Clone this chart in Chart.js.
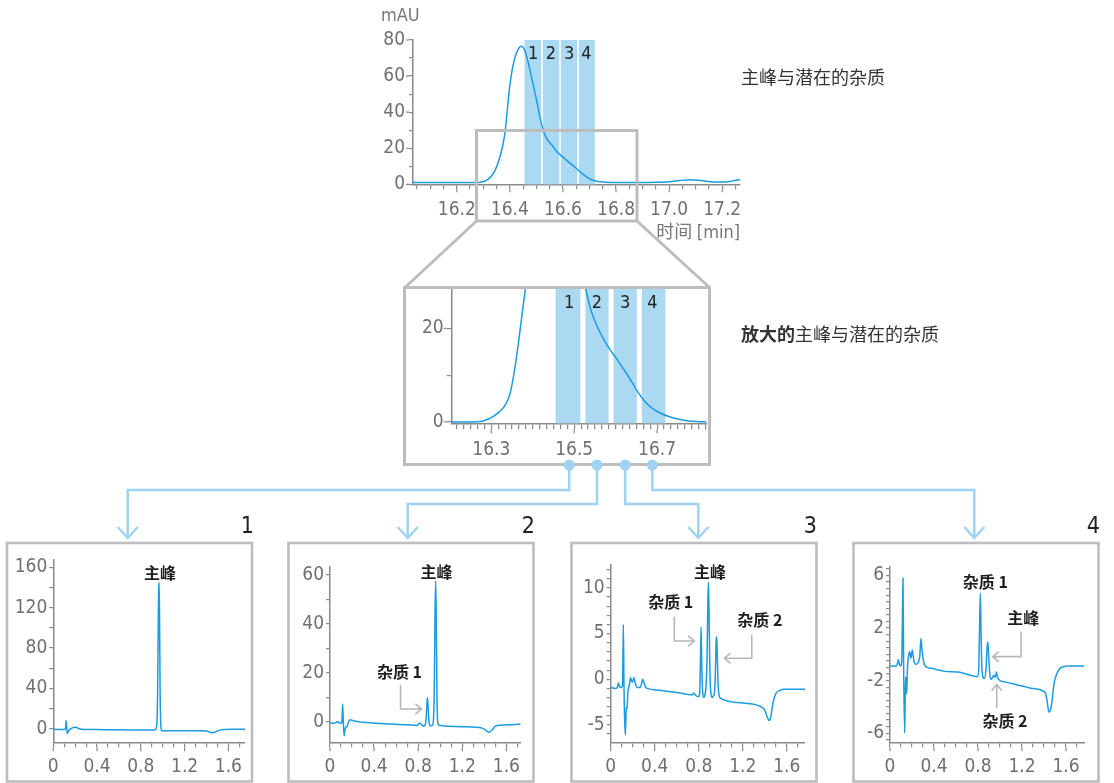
<!DOCTYPE html>
<html lang="zh">
<head>
<meta charset="utf-8">
<title>主峰与潜在的杂质</title>
<script src="https://cdn.jsdelivr.net/npm/chart.js@4.4.1/dist/chart.umd.min.js"></script>
<style>
  html, body { margin: 0; padding: 0; background: #fff; }
  body { position: relative; width: 1114px; height: 783px; overflow: hidden; }
  canvas { position: absolute; }
  .txt { position: absolute; white-space: nowrap; line-height: 1; }
  .cjk { font-family: 'Noto Sans CJK SC', 'Noto Sans', sans-serif; }
  .num { font-family: 'Liberation Sans Narrow', 'DejaVu Sans Condensed', 'Liberation Sans', sans-serif; }
  .title { font-size: 18px; color: #333; left: 741px; }
  .axisname { font-size: 18px; color: #777; }
  .boxno { font-size: 23px; color: #222; top: 514px; }
</style>
</head>
<body>

<canvas id="overview" width="400" height="200" style="left:350px; top:20px;"></canvas>
<canvas id="zoom" width="315" height="200" style="left:400px; top:268px;"></canvas>
<canvas id="frac1" width="262" height="243" style="left:0px; top:540px;"></canvas>
<canvas id="frac2" width="262" height="243" style="left:280px; top:540px;"></canvas>
<canvas id="frac3" width="262" height="243" style="left:560px; top:540px;"></canvas>
<canvas id="frac4" width="262" height="243" style="left:842px; top:540px;"></canvas>
<canvas id="links" width="1114" height="783" style="left:0; top:0; pointer-events:none;"></canvas>

<div class="txt num axisname" style="left:381px; top:6px;">mAU</div>
<div class="txt axisname" style="right:374px; top:221px;"><span class="cjk">时间</span> <span class="num">[min]</span></div>
<div class="txt cjk title" style="top:67px;">主峰与潜在的杂质</div>
<div class="txt cjk title" style="top:324px;"><b>放大的</b>主峰与潜在的杂质</div>
<div class="txt num boxno" style="right:860px;">1</div>
<div class="txt num boxno" style="right:579px;">2</div>
<div class="txt num boxno" style="right:297px;">3</div>
<div class="txt num boxno" style="right:14px;">4</div>

<script>
// ---- full chromatogram around the main peak (mAU vs min) ----
const overviewTime = [
  16.035, 16.1, 16.2, 16.26, 16.29, 16.31, 16.33, 16.345, 16.36, 16.38,
  16.40, 16.415, 16.43, 16.443, 16.455, 16.47, 16.485, 16.5, 16.515, 16.53,
  16.545, 16.56, 16.575, 16.59, 16.61, 16.63, 16.65, 16.67, 16.69, 16.71,
  16.73, 16.76, 16.8, 16.9, 16.95, 17.0, 17.04, 17.08, 17.12, 17.17,
  17.21, 17.24, 17.267
];
const overviewSignal = [
  1.0, 1.0, 1.0, 1.0, 1.2, 2.0, 4.5, 8, 14, 27,
  55, 68, 74.5, 76.5, 74.5, 67, 57, 47, 36, 28,
  24, 21.5, 18.5, 16.3, 13.8, 11.3, 8.9, 6.3, 4.0, 2.4,
  1.6, 1.2, 1.0, 1.0, 1.1, 1.4, 2.1, 2.5, 2.1, 1.3,
  1.3, 1.9, 2.7
];

// ---- magnified view of the same peak ----
const zoomTime = [
  16.2045, 16.25, 16.275, 16.29, 16.305, 16.32, 16.335, 16.345, 16.355, 16.365,
  16.375, 16.385, 16.40, 16.415, 16.43, 16.443, 16.455, 16.47, 16.485, 16.5,
  16.515, 16.528, 16.54, 16.555, 16.57, 16.585, 16.6, 16.62, 16.64, 16.655,
  16.67, 16.69, 16.71, 16.73, 16.75, 16.775, 16.8, 16.819
];
const zoomSignal = [
  0, 0, 0.1, 0.5, 1.2, 2.2, 3.8, 6, 10.5, 16.5,
  23.5, 31, 50, 66, 74, 76, 74, 66, 56, 45,
  35, 28.5, 24, 20.5, 17.8, 15.6, 13.8, 11.2, 8.4, 6.2,
  4.4, 2.8, 1.8, 1.1, 0.6, 0.2, 0.05, 0
];

// ---- collected fractions (edges in min) ----
const fractionEdges = [16.455, 16.521, 16.589, 16.657, 16.72];
const fractionNames = ['1', '2', '3', '4'];

// ---- second-dimension runs of each fraction ----
const frac1Time = [
  0, 0.05, 0.1, 0.112, 0.118, 0.122, 0.127, 0.132, 0.14, 0.155,
  0.175, 0.2, 0.215, 0.235, 0.26, 0.3, 0.4, 0.5, 0.6, 0.7,
  0.8, 0.9, 0.93, 0.945, 0.952, 0.958, 0.963, 0.967, 0.971, 0.976,
  0.982, 0.99, 1.0, 1.05, 1.2, 1.35, 1.4, 1.425, 1.45, 1.475,
  1.5, 1.53, 1.56, 1.65, 1.752
];
const frac1Signal = [
  -0.6, -0.7, -0.8, 0.5, 8, 1, -5, -3.5, -2, -0.5,
  0.8, 1.5, 1.2, 0, -0.6, -0.8, -0.9, -1.0, -1.1, -1.2,
  -1.3, -1.4, -1.2, 3, 25, 90, 140, 145, 110, 40,
  5, -2, -2.2, -2.0, -2.0, -2.1, -2.3, -3.2, -4.0, -3.6,
  -2.2, -1.2, -0.8, -0.6, -0.5
];

const frac2Time = [
  0, 0.04, 0.06, 0.07, 0.08, 0.1, 0.108, 0.115, 0.121, 0.128,
  0.135, 0.145, 0.155, 0.165, 0.18, 0.2, 0.22, 0.3, 0.5, 0.7,
  0.79, 0.805, 0.815, 0.83, 0.85, 0.862, 0.872, 0.879, 0.884, 0.889,
  0.896, 0.905, 0.915, 0.93, 0.94, 0.947, 0.953, 0.959, 0.964, 0.97,
  0.977, 0.985, 1.0, 1.2, 1.38, 1.41, 1.44, 1.47, 1.5, 1.55,
  1.65, 1.73
];
const frac2Signal = [
  -0.5, -0.6, -0.2, 0.1, -0.4, -0.6, 0.0, 7.3, 0.0, -5.7,
  -3.6, -2.0, -2.0, -0.5, 0.8, 0.6, 0.3, -0.2, -0.8, -1.2,
  -1.5, -0.8, -0.5, -1.2, -1.8, -1.5, 1.5, 7.0, 9.8, 7.0,
  1.0, -1.4, -1.6, -1.4, 2.0, 18, 45, 57.6, 42, 12,
  0.0, -1.3, -1.5, -2.0, -2.6, -3.3, -4.3, -3.4, -1.8, -1.4,
  -1.2, -1.0
];

const frac3Time = [
  0, 0.04, 0.06, 0.07, 0.08, 0.1, 0.108, 0.115, 0.121, 0.127,
  0.133, 0.14, 0.145, 0.15, 0.155, 0.162, 0.17, 0.18, 0.19, 0.2,
  0.21, 0.225, 0.24, 0.27, 0.28, 0.29, 0.3, 0.315, 0.33, 0.44,
  0.6, 0.74, 0.755, 0.77, 0.8, 0.808, 0.815, 0.821, 0.827, 0.835,
  0.848, 0.858, 0.868, 0.876, 0.883, 0.888, 0.893, 0.9, 0.91, 0.925,
  0.935, 0.945, 0.953, 0.959, 0.964, 0.969, 0.976, 0.986, 1.0, 1.2,
  1.38, 1.405, 1.425, 1.44, 1.455, 1.475, 1.5, 1.54, 1.58, 1.766
];
const frac3Signal = [
  -0.9, -1.0, -0.9, -0.4, -0.8, -0.9, -0.5, 6.0, -1.0, -4.5,
  -6.1, -3.5, -3.0, -3.2, -1.6, -1.0, -0.6, 0.2, -0.2, -0.3,
  0.2, -0.5, -0.9, -0.9, -0.5, 0.0, -0.3, -0.8, -1.0, -1.2,
  -1.45, -1.7, -1.5, -1.75, -1.9, -1.6, 1.5, 5.7, 2.0, -1.3,
  -2.0, -1.6, -0.5, 2.5, 8.5, 10.6, 8.0, 2.0, -1.5, -2.0,
  -1.8, -1.3, 1.5, 4.4, 4.65, 2.5, -0.5, -1.8, -2.1, -2.6,
  -3.1, -3.5, -4.2, -4.5, -4.1, -2.6, -1.6, -1.2, -1.1, -1.1
];

const frac4Time = [
  0, 0.06, 0.07, 0.076, 0.083, 0.095, 0.106, 0.112, 0.118, 0.124,
  0.133, 0.138, 0.142, 0.147, 0.152, 0.158, 0.167, 0.178, 0.185, 0.191,
  0.197, 0.203, 0.209, 0.22, 0.233, 0.258, 0.27, 0.282, 0.292, 0.312,
  0.34, 0.379, 0.5, 0.62, 0.797, 0.806, 0.814, 0.821, 0.828, 0.836,
  0.858, 0.872, 0.881, 0.888, 0.895, 0.905, 0.915, 0.93, 0.942, 0.955,
  0.962, 0.967, 0.973, 0.985, 1.045, 1.167, 1.24, 1.3, 1.41, 1.425,
  1.445, 1.465, 1.494, 1.52, 1.545, 1.58, 1.606, 1.766
];
const frac4Signal = [
  -0.9, -0.9, -0.6, -0.4, -0.7, -0.9, -0.6, 2.0, 5.8, -1.0,
  -6.0, -3.5, -1.7, -2.5, -3.0, -1.2, -0.2, 0.2, -0.1, -0.3,
  0.1, 0.33, 0.0, -0.6, -0.76, -0.6, -0.2, 1.2, 0.2, -0.76,
  -1.0, -1.07, -1.3, -1.35, -1.7, -1.2, 2.0, 4.65, 1.5, -1.2,
  -1.85, -1.2, 0.3, 0.96, 0.2, -1.3, -1.9, -1.8, -1.6, -1.75,
  -1.6, -1.35, -1.6, -1.9, -2.1, -2.35, -2.5, -2.6, -2.9, -3.4,
  -4.4, -4.0, -2.1, -1.4, -1.07, -0.95, -0.9, -0.9
];

// ---- tick labels ----
const overviewXLabels = ['16.2', '16.4', '16.6', '16.8', '17.0', '17.2'];
const overviewYLabels = ['0', '20', '40', '60', '80'];
const zoomXLabels = ['16.3', '16.5', '16.7'];
const zoomYLabels = ['0', '20'];
const fracXLabels = ['0', '0.4', '0.8', '1.2', '1.6'];
const frac1YLabels = ['0', '40', '80', '120', '160'];
const frac2YLabels = ['0', '20', '40', '60'];
const frac3YLabels = ['-5', '0', '5', '10'];
const frac4YLabels = ['-6', '-2', '2', '6'];

// ---- peak annotations ----
const frac1Notes = [{ text: '主峰', x: 0.975, y: 154.5 }];
const frac2Notes = [
  { text: '主峰', x: 0.966, y: 61.2 },
  { text: '杂质 1', x: 0.63, y: 20.5, arrow: [[0.64, 15.0], [0.64, 5.2], [0.83, 5.2]] }
];
const frac3Notes = [
  { text: '主峰', x: 0.903, y: 11.7 },
  { text: '杂质 1', x: 0.545, y: 8.5, arrow: [[0.578, 6.84], [0.578, 4.19], [0.76, 4.19]] },
  { text: '杂质 2', x: 1.355, y: 6.5, arrow: [[1.282, 4.84], [1.282, 2.3], [1.033, 2.3]] }
];
const frac4Notes = [
  { text: '杂质 1', x: 0.866, y: 5.53 },
  { text: '主峰', x: 1.212, y: 2.8, arrow: [[1.191, 1.72], [1.191, -0.18], [0.934, -0.18]] },
  { text: '杂质 2', x: 1.045, y: -5.08, arrow: [[0.97, -4.11], [0.97, -2.3]] }
];

const LINE = '#1b9be0';
const BAND = '#abd9f2';
const AXIS = '#8a8a8a';
const TICK_TXT = '#707070';
const FRAME = '#bdbdbd';
const LINK = '#9fd3f1';
const NOTE_ARROW = '#b7b7b7';
const NUM_FONT = "'Liberation Sans Narrow', 'DejaVu Sans Condensed', 'Liberation Sans', sans-serif";
const CJK_FONT = "'Noto Sans CJK SC', 'Noto Sans', sans-serif";

function steps(from, to, step) {
  const out = [];
  const n = Math.round((to - from) / step);
  for (let i = 0; i <= n; i++) out.push(+(from + i * step).toFixed(6));
  return out;
}
function labelFor(list) {
  return v => {
    const hit = list.find(s => Math.abs(parseFloat(s) - v) < 1e-6);
    return hit === undefined ? '' : hit;
  };
}

// draws fraction bands, their numbers, longer major ticks and peak notes
function decorations(cfg) {
  return {
    id: 'decorations',
    beforeDatasetsDraw(chart) {
      if (!cfg.bands) return;
      const { ctx, scales: { x, y } } = chart;
      const top = y.getPixelForValue(cfg.bands.top);
      const bottom = y.getPixelForValue(y.min);
      ctx.save();
      ctx.fillStyle = BAND;
      for (let i = 0; i < fractionEdges.length - 1; i++) {
        const l = x.getPixelForValue(fractionEdges[i]) + (i === 0 ? 0 : cfg.bands.gap / 2);
        const r = x.getPixelForValue(fractionEdges[i + 1]) - (i === fractionEdges.length - 2 ? 0 : cfg.bands.gap / 2);
        ctx.fillRect(l, top, r - l, bottom - top);
      }
      ctx.restore();
    },
    afterDatasetsDraw(chart) {
      const { ctx, scales: { x, y } } = chart;
      ctx.save();
      if (cfg.bands) {
        ctx.fillStyle = '#222';
        ctx.font = '18px ' + NUM_FONT;
        ctx.textAlign = 'center';
        ctx.textBaseline = 'middle';
        for (let i = 0; i < fractionNames.length; i++) {
          const c = (fractionEdges[i] + fractionEdges[i + 1]) / 2;
          ctx.fillText(fractionNames[i], x.getPixelForValue(c), y.getPixelForValue(cfg.bands.labelY));
        }
      }
      (cfg.notes || []).forEach(n => {
        ctx.fillStyle = '#1e1e1e';
        ctx.font = 'bold 16px ' + CJK_FONT;
        ctx.textAlign = 'center';
        ctx.textBaseline = 'middle';
        ctx.fillText(n.text, x.getPixelForValue(n.x), y.getPixelForValue(n.y));
        if (n.arrow) {
          const pts = n.arrow.map(p => [x.getPixelForValue(p[0]), y.getPixelForValue(p[1])]);
          ctx.strokeStyle = NOTE_ARROW;
          ctx.lineWidth = 1.6;
          ctx.beginPath();
          pts.forEach((p, i) => i ? ctx.lineTo(p[0], p[1]) : ctx.moveTo(p[0], p[1]));
          const a = pts[pts.length - 1], b = pts[pts.length - 2];
          const ang = Math.atan2(a[1] - b[1], a[0] - b[0]);
          const len = 8, spread = Math.PI / 4.5;
          ctx.moveTo(a[0] - len * Math.cos(ang - spread), a[1] - len * Math.sin(ang - spread));
          ctx.lineTo(a[0], a[1]);
          ctx.lineTo(a[0] - len * Math.cos(ang + spread), a[1] - len * Math.sin(ang + spread));
          ctx.stroke();
        }
      });
      ctx.restore();
    },
    afterDraw(chart) {
      const { ctx, chartArea, scales: { x, y } } = chart;
      ctx.save();
      ctx.strokeStyle = AXIS;
      ctx.lineWidth = 1.2;
      ctx.beginPath();
      cfg.xLabels.forEach(s => {
        const px = x.getPixelForValue(parseFloat(s));
        ctx.moveTo(px, chartArea.bottom + cfg.xTick);
        ctx.lineTo(px, chartArea.bottom + cfg.xMajor);
      });
      cfg.yLabels.forEach(s => {
        const py = y.getPixelForValue(parseFloat(s));
        ctx.moveTo(chartArea.left - cfg.yTick, py);
        ctx.lineTo(chartArea.left - cfg.yMajor, py);
      });
      ctx.stroke();
      ctx.restore();
    }
  };
}

function buildChart(id, cfg) {
  const points = cfg.time.map((t, i) => ({ x: t, y: cfg.signal[i] }));
  return new Chart(document.getElementById(id), {
    type: 'line',
    data: {
      datasets: [{
        data: points,
        borderColor: LINE,
        borderWidth: cfg.lineWidth || 1.5,
        pointRadius: 0,
        fill: false,
        tension: 0.4,
        cubicInterpolationMode: 'monotone'
      }]
    },
    options: {
      responsive: false,
      animation: false,
      devicePixelRatio: 1,
      events: [],
      layout: { padding: { top: cfg.padTop, right: cfg.padRight, left: 0, bottom: 0 } },
      plugins: { legend: { display: false }, tooltip: { enabled: false } },
      scales: {
        x: {
          type: 'linear',
          min: cfg.xMin,
          max: cfg.xMax,
          border: { color: AXIS, width: 1.5 },
          grid: { drawOnChartArea: false, drawTicks: true, tickLength: cfg.xTick, color: AXIS, lineWidth: 1.2 },
          ticks: {
            color: TICK_TXT, font: { family: NUM_FONT, size: 19 }, padding: cfg.xPad,
            maxRotation: 0, minRotation: 0, autoSkip: false, callback: labelFor(cfg.xLabels)
          },
          afterBuildTicks: s => { s.ticks = cfg.xTicks.map(v => ({ value: v })); },
          afterFit: s => { s.height = cfg.xAxisH; }
        },
        y: {
          type: 'linear',
          min: cfg.yMin,
          max: cfg.yMax,
          border: { color: AXIS, width: 1.5 },
          grid: { drawOnChartArea: false, drawTicks: true, tickLength: cfg.yTick, color: AXIS, lineWidth: 1.2 },
          ticks: {
            color: TICK_TXT, font: { family: NUM_FONT, size: 19 }, padding: cfg.yPad,
            autoSkip: false, callback: labelFor(cfg.yLabels)
          },
          afterBuildTicks: s => { s.ticks = cfg.yTicks.map(v => ({ value: v })); },
          afterFit: s => { s.width = cfg.yAxisW; }
        }
      }
    },
    plugins: [decorations(cfg)]
  });
}

buildChart('overview', {
  time: overviewTime, signal: overviewSignal,
  xMin: 16.035, xMax: 17.267, yMin: 0, yMax: 80,
  xTicks: steps(16.05, 17.25, 0.05), yTicks: steps(0, 80, 10),
  xLabels: overviewXLabels, yLabels: overviewYLabels,
  xTick: 5, xMajor: 8, yTick: 4, yMajor: 7, xPad: 9.5, yPad: 4,
  yAxisW: 63, xAxisH: 35.7, padTop: 20, padRight: 10,
  bands: { top: 80, gap: 1.5, labelY: 72.3 }
});

const zoomChart = buildChart('zoom', {
  time: zoomTime, signal: zoomSignal,
  xMin: 16.2045, xMax: 16.819, yMin: -0.3, yMax: 28.7,
  xTicks: steps(973 / 60, 1009 / 60, 1 / 60), yTicks: [0, 10, 20],
  xLabels: zoomXLabels, yLabels: zoomYLabels,
  xTick: 6, xMajor: 10, yTick: 5, yMajor: 8, xPad: 9.5, yPad: 3,
  yAxisW: 51.7, xAxisH: 44.7, padTop: 19.6, padRight: 5.7,
  bands: { top: 28.7, gap: 5, labelY: 25.3 }
});

const fracCommon = { xMin: 0, xTicks: steps(0, 1.7, 0.1), xLabels: fracXLabels,
  xTick: 5, xMajor: 9, yTick: 4, yMajor: 4, xPad: 8.5, yPad: 2, xAxisH: 40.7 };

buildChart('frac1', Object.assign({}, fracCommon, {
  time: frac1Time, signal: frac1Signal, xMax: 1.752, yMin: -13.5, yMax: 167.2,
  yTicks: steps(0, 160, 20), yLabels: frac1YLabels, notes: frac1Notes,
  yAxisW: 53.3, padTop: 20, padRight: 17
}));
buildChart('frac2', Object.assign({}, fracCommon, {
  time: frac2Time, signal: frac2Signal, xMax: 1.73, yMin: -8.4, yMax: 63.4,
  yTicks: steps(0, 60, 10), yLabels: frac2YLabels, notes: frac2Notes,
  yAxisW: 50, padTop: 26.7, padRight: 21.3
}));
buildChart('frac3', Object.assign({}, fracCommon, {
  time: frac3Time, signal: frac3Signal, xMax: 1.766, yMin: -6.9, yMax: 12.5,
  yTicks: steps(-6, 12, 1), yLabels: frac3YLabels, notes: frac3Notes,
  yAxisW: 50.7, padTop: 25, padRight: 17
}));
buildChart('frac4', Object.assign({}, fracCommon, {
  time: frac4Time, signal: frac4Signal, xMax: 1.766, yMin: -6.7, yMax: 6.67,
  yTicks: steps(-6.5, 6.5, 0.5), yLabels: frac4YLabels, notes: frac4Notes,
  yAxisW: 48, padTop: 26.7, padRight: 19.7
}));

// ---- frames, zoom trapezoid and fraction links ----
(function drawLinks() {
  const ctx = document.getElementById('links').getContext('2d');
  ctx.strokeStyle = FRAME;
  ctx.lineWidth = 3;
  ctx.strokeRect(476.5, 130.5, 160.5, 90.5);
  ctx.beginPath();
  ctx.moveTo(476.5, 221); ctx.lineTo(405, 287.5);
  ctx.moveTo(637, 221); ctx.lineTo(709.5, 287.5);
  ctx.stroke();
  ctx.strokeRect(404.5, 287.5, 305, 177);
  ctx.lineWidth = 2.6;
  [7, 288.5, 571.5, 853.5].forEach(l => ctx.strokeRect(l, 543, 245, 238.5));

  const zx = zoomChart.scales.x;
  const offset = 400;
  const targets = [127.7, 407.7, 698.3, 974.3];
  const levels = [490, 504, 504, 490];
  ctx.strokeStyle = LINK;
  ctx.fillStyle = LINK;
  ctx.lineWidth = 2.5;
  for (let i = 0; i < 4; i++) {
    const cx = offset + zx.getPixelForValue((fractionEdges[i] + fractionEdges[i + 1]) / 2);
    const tx = targets[i];
    ctx.beginPath();
    ctx.moveTo(cx, 465);
    ctx.lineTo(cx, levels[i]);
    ctx.lineTo(tx, levels[i]);
    ctx.lineTo(tx, 538);
    ctx.moveTo(tx - 10, 527);
    ctx.lineTo(tx, 538);
    ctx.lineTo(tx + 10, 527);
    ctx.stroke();
    ctx.beginPath();
    ctx.arc(cx, 465, 5.5, 0, Math.PI * 2);
    ctx.fill();
  }
})();
</script>
</body>
</html>
